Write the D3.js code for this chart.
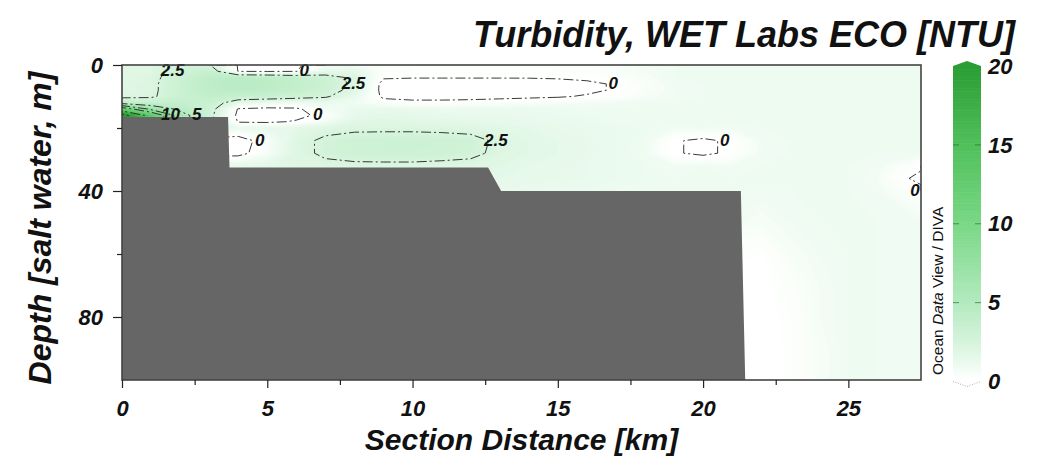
<!DOCTYPE html>
<html>
<head>
<meta charset="utf-8">
<script src="https://cdn.jsdelivr.net/npm/d3@7"></script>
<style>
body { margin: 0; background: #fff; }
svg { display: block; font-family: "Liberation Sans", Arial, sans-serif; }
</style>
</head>
<body>
<div id="chart"></div>
<script>
// section stations (km) and depth levels (m) of the gridded field
var distances = [0, 1, 2, 3, 4, 5, 6, 7, 8, 9, 10, 11, 12, 13, 14, 15, 16, 17, 18, 19, 20, 21, 22, 23, 24, 25, 26, 27.5];
var depths = [0, 2, 4, 6, 8, 10, 12, 14, 16, 18, 20, 24, 28, 32, 36, 40, 50, 60, 70, 80, 90, 100];

// turbidity [NTU], one row per depth level
var turbidity = [
  [1.8, 2.0, 2.8, 2.6, -0.1, -0.3, -0.2, 0.8, 0.9, 0.5, 0.3, 0.3, 0.3, 0.3, 0.3, 0.4, 0.5, 0.7, 0.9, 1.0, 1.0, 1.0, 1.0, 1.0, 1.0, 1.0, 1.0, 1.0],
  [1.8, 2.0, 3.0, 3.6, -0.05, -0.1, -0.05, 1.5, 1.6, 0.4, 0.3, 0.3, 0.3, 0.3, 0.3, 0.3, 0.4, 0.6, 0.8, 1.0, 1.0, 1.0, 1.0, 1.0, 1.0, 1.0, 1.0, 1.0],
  [1.9, 2.1, 3.3, 4.2, 4.5, 4.3, 3.8, 3.2, 2.2, 0.1, 0.05, 0.05, 0.05, 0.05, 0.05, 0.1, 0.2, 0.4, 0.7, 1.0, 1.0, 1.0, 1.0, 1.0, 1.0, 1.0, 1.0, 1.0],
  [2.0, 2.2, 3.4, 4.3, 4.6, 4.4, 3.9, 3.3, 2.2, -0.4, -0.6, -0.6, -0.6, -0.6, -0.5, -0.4, -0.2, 0.1, 0.6, 0.9, 1.0, 1.0, 1.0, 1.0, 1.0, 1.0, 1.0, 1.0],
  [2.0, 2.2, 3.4, 4.2, 4.5, 4.3, 3.8, 3.2, 2.0, -0.4, -0.6, -0.6, -0.6, -0.6, -0.5, -0.4, -0.2, 0.1, 0.6, 0.9, 1.0, 1.0, 1.0, 1.0, 1.0, 1.0, 1.0, 1.0],
  [2.1, 2.3, 3.3, 3.9, 3.6, 3.4, 3.1, 2.7, 1.4, -0.2, -0.4, -0.4, -0.4, -0.3, -0.2, -0.1, 0.1, 0.3, 0.7, 0.9, 1.0, 1.0, 1.0, 1.0, 1.0, 1.0, 1.0, 1.0],
  [4.0, 3.5, 3.8, 3.5, 1.5, 1.2, 1.0, 1.3, 1.0, 0.4, 0.3, 0.3, 0.4, 0.5, 0.6, 0.7, 0.8, 0.9, 1.0, 1.0, 1.0, 1.0, 1.0, 1.0, 1.0, 1.0, 1.0, 1.0],
  [12, 7, 4.5, 3.2, -0.1, -0.3, -0.2, 0.8, 1.3, 1.4, 1.3, 1.2, 1.2, 1.2, 1.2, 1.1, 1.0, 1.0, 1.0, 1.0, 1.0, 1.0, 1.0, 1.0, 1.0, 1.0, 1.0, 1.0],
  [22, 13, 6, 3.0, -0.3, -0.4, -0.3, 0.3, 1.5, 1.7, 1.6, 1.5, 1.4, 1.4, 1.3, 1.2, 1.1, 1.0, 1.0, 1.0, 1.0, 1.0, 1.0, 1.0, 1.0, 1.0, 1.0, 1.0],
  [22, 13, 6, 3.0, -0.1, -0.2, 0.1, 0.9, 1.8, 1.9, 1.8, 1.7, 1.6, 1.5, 1.4, 1.3, 1.2, 1.1, 1.0, 1.0, 1.0, 1.0, 1.0, 1.0, 1.0, 1.0, 1.0, 1.0],
  [3.0, 3.0, 3.0, 2.0, 1.2, 1.4, 1.6, 2.0, 2.2, 2.2, 2.2, 2.1, 2.0, 1.8, 1.6, 1.4, 1.3, 1.2, 1.1, 0.9, 1.0, 0.9, 1.0, 1.0, 1.0, 1.0, 1.0, 1.0],
  [-0.6, -0.6, -0.6, -0.6, -0.6, 0.6, 2.0, 2.8, 3.1, 3.2, 3.2, 3.2, 3.0, 2.2, 1.8, 1.6, 1.4, 1.2, 1.0, 0.1, -0.2, 0.2, 0.9, 1.0, 1.0, 1.0, 1.0, 1.0],
  [-0.5, -0.5, -0.5, -0.5, -0.4, 0.7, 2.0, 2.8, 3.1, 3.2, 3.2, 3.1, 2.9, 2.1, 1.8, 1.6, 1.4, 1.2, 1.0, 0.1, -0.2, 0.2, 0.9, 1.0, 1.0, 1.0, 1.0, 1.0],
  [1.5, 1.5, 1.5, 1.5, 1.5, 1.7, 2.0, 2.1, 2.2, 2.2, 2.2, 2.1, 2.0, 1.8, 1.6, 1.5, 1.3, 1.2, 1.1, 0.9, 1.0, 0.9, 1.0, 1.0, 1.0, 1.0, 0.9, 0.2],
  [1.5, 1.5, 1.5, 1.5, 1.5, 1.6, 1.8, 1.9, 2.0, 2.0, 2.0, 1.9, 1.8, 1.6, 1.5, 1.4, 1.3, 1.2, 1.1, 1.0, 1.0, 1.0, 1.0, 1.0, 1.0, 1.0, 0.8, -0.3],
  [1.3, 1.3, 1.3, 1.3, 1.3, 1.4, 1.5, 1.6, 1.6, 1.6, 1.6, 1.6, 1.5, 1.4, 1.3, 1.2, 1.2, 1.1, 1.0, 1.0, 1.0, 1.0, 1.0, 1.0, 1.0, 1.0, 0.9, 0.3],
  [1.0, 1.0, 1.0, 1.0, 1.0, 1.0, 1.0, 1.0, 1.0, 1.0, 1.0, 1.0, 1.0, 1.0, 1.0, 1.0, 1.0, 1.0, 1.0, 1.0, 1.0, 0.9, 0.7, 0.9, 1.0, 1.0, 1.0, 0.9],
  [1.0, 1.0, 1.0, 1.0, 1.0, 1.0, 1.0, 1.0, 1.0, 1.0, 1.0, 1.0, 1.0, 1.0, 1.0, 1.0, 1.0, 1.0, 1.0, 1.0, 1.0, 0.3, 0.2, 0.7, 0.9, 1.0, 1.0, 0.9],
  [1.0, 1.0, 1.0, 1.0, 1.0, 1.0, 1.0, 1.0, 1.0, 1.0, 1.0, 1.0, 1.0, 1.0, 1.0, 1.0, 1.0, 1.0, 1.0, 1.0, 1.0, 0.1, 0.05, 0.4, 0.8, 1.0, 1.0, 0.9],
  [1.0, 1.0, 1.0, 1.0, 1.0, 1.0, 1.0, 1.0, 1.0, 1.0, 1.0, 1.0, 1.0, 1.0, 1.0, 1.0, 1.0, 1.0, 1.0, 1.0, 1.0, 0.05, 0.05, 0.3, 0.8, 1.0, 1.0, 0.9],
  [1.0, 1.0, 1.0, 1.0, 1.0, 1.0, 1.0, 1.0, 1.0, 1.0, 1.0, 1.0, 1.0, 1.0, 1.0, 1.0, 1.0, 1.0, 1.0, 1.0, 1.0, 0.05, 0.05, 0.25, 0.7, 1.0, 1.0, 0.9],
  [1.0, 1.0, 1.0, 1.0, 1.0, 1.0, 1.0, 1.0, 1.0, 1.0, 1.0, 1.0, 1.0, 1.0, 1.0, 1.0, 1.0, 1.0, 1.0, 1.0, 1.0, 0.05, 0.05, 0.25, 0.7, 1.0, 1.0, 0.9]
];

// sea floor outline
var bottomKm = [0, 3.65, 3.7, 12.6, 13.05, 21.3, 21.45];
var bottomDepth = [16.5, 16.5, 32.5, 32.5, 40, 40, 100];

var xTicks = [0, 5, 10, 15, 20, 25];
var xMinorTicks = [2.5, 7.5, 12.5, 17.5, 22.5];
var yTicks = [0, 40, 80];
var yMinorTicks = [20, 60];
var colorTicks = [0, 5, 10, 15, 20];
var contourLevels = [0, 2.5, 5, 7.5, 10, 15, 20];

var colorStops = [0, 0.4, 1, 2.5, 5, 10, 15, 20];
var colorRange = ["#ffffff", "#fbfefb", "#eefbf1", "#d6f4dc", "#b3eabf", "#7ad886", "#50c05b", "#2a9d33"];

var svgWidth = 1045, svgHeight = 461;
var plotLeft = 122, plotRight = 921, plotTop = 65, plotBottom = 380;
var labelFont = "bold italic 22px 'Liberation Sans', Arial, sans-serif";

var svg = d3.select("#chart").append("svg")
    .attr("width", svgWidth)
    .attr("height", svgHeight);

var x = d3.scaleLinear().domain([0, 27.5]).range([plotLeft, plotRight]);
var y = d3.scaleLinear().domain([0, 100]).range([plotTop, plotBottom]);
var color = d3.scaleLinear().domain(colorStops).range(colorRange).clamp(true);

svg.append("clipPath").attr("id", "plotClip")
  .append("rect")
    .attr("x", plotLeft).attr("y", plotTop)
    .attr("width", plotRight - plotLeft).attr("height", plotBottom - plotTop);

// grid index -> data coords (value i sits at i + 0.5 in d3.contours space)
var nx = distances.length, ny = depths.length;
var gx = d3.scaleLinear().domain(distances.map(function(d, i) { return i + 0.5; })).range(distances).clamp(true);
var gy = d3.scaleLinear().domain(depths.map(function(d, i) { return i + 0.5; })).range(depths).clamp(true);
var toPx = function(p) { return [x(gx(p[0])), y(gy(p[1]))]; };
var proj = d3.geoTransform({
    point: function(px, py) { this.stream.point(x(gx(px)), y(gy(py))); }
});
var path = d3.geoPath(proj);

var flat = [];
turbidity.forEach(function(row) { row.forEach(function(v) { flat.push(v); }); });

var field = svg.append("g").attr("clip-path", "url(#plotClip)");

field.append("rect")
    .attr("x", plotLeft).attr("y", plotTop)
    .attr("width", plotRight - plotLeft).attr("height", plotBottom - plotTop)
    .attr("fill", "#ffffff");

var bands = d3.contours().size([nx, ny]).thresholds(d3.range(0, 22, 0.1))(flat);
field.selectAll("path.band")
    .data(bands)
    .enter().append("path")
    .attr("class", "band")
    .attr("d", path)
    .attr("fill", function(d) { return color(d.value); });

// sea floor polygon in pixels
var floorPts = bottomKm.map(function(k, i) { return [x(k), y(bottomDepth[i])]; });
floorPts.push([x(0), y(100)]);

// contour lines, split where they run along the grid border
function isEdge(p) { return p[0] <= 0 || p[0] >= nx || p[1] <= 0 || p[1] >= ny; }
function splitRing(ring) {
    var pts = ring.slice(0, -1);
    var k = pts.findIndex(isEdge);
    if (k < 0) return [ring];
    var rot = pts.slice(k).concat(pts.slice(0, k));
    var runs = [], cur = [rot[0]], inner = 0;
    for (var i = 1; i < rot.length; i++) {
        var p = rot[i];
        cur.push(p);
        if (isEdge(p)) {
            if (inner > 0) runs.push(cur);
            cur = [p]; inner = 0;
        } else inner++;
    }
    cur.push(rot[0]);
    if (inner > 0) runs.push(cur);
    return runs;
}

var lines = d3.contours().size([nx, ny]).thresholds(contourLevels)(flat);
var runs = [];
lines.forEach(function(c) {
    c.coordinates.forEach(function(poly) {
        poly.forEach(function(ring) {
            splitRing(ring).forEach(function(r) {
                runs.push({ value: c.value, pts: r.map(toPx) });
            });
        });
    });
});

field.selectAll("path.iso")
    .data(runs)
    .enter().append("path")
    .attr("class", "iso")
    .attr("d", function(d) { return d3.line()(d.pts); })
    .attr("fill", "none")
    .attr("stroke", "#222")
    .attr("stroke-width", 0.9)
    .attr("stroke-dasharray", "10,3,2,3");

// sea floor
svg.append("path")
    .attr("d", d3.line()(floorPts) + "Z")
    .attr("fill", "#666666");

// contour labels at the right end of each visible run
var labels = [];
runs.forEach(function(r) {
    var vis = r.pts.filter(function(p) {
        return p[0] > plotLeft + 2 && p[1] > plotTop + 2 && p[1] < plotBottom - 2 && !d3.polygonContains(floorPts, p);
    });
    if (vis.length < 2) return;
    var len = 0;
    for (var i = 1; i < vis.length; i++) len += Math.hypot(vis[i][0] - vis[i - 1][0], vis[i][1] - vis[i - 1][1]);
    if (len < 30) return;
    var best = d3.greatest(vis, function(p) { return p[0]; });
    var dx = 7;
    if (best[0] > plotRight - 10) {
        best = d3.greatest(vis, function(p) { return p[1]; });
        dx = -6;
    }
    labels.push({ value: r.value, p: best, dx: dx });
});

svg.selectAll("text.clabel")
    .data(labels)
    .enter().append("text")
    .attr("class", "clabel")
    .attr("x", function(d) { return d.p[0] + d.dx; })
    .attr("y", function(d) { return Math.min(Math.max(d.p[1] + 5, plotTop + 10), plotBottom - 4); })
    .attr("text-anchor", "middle")
    .style("font", "bold italic 17px 'Liberation Sans', Arial, sans-serif")
    .attr("fill", "#111")
    .text(function(d) { return d.value; });

// frame
svg.append("rect")
    .attr("x", plotLeft).attr("y", plotTop)
    .attr("width", plotRight - plotLeft).attr("height", plotBottom - plotTop)
    .attr("fill", "none")
    .attr("stroke", "#444")
    .attr("stroke-width", 1.6);

// axes
var xAxisMinor = d3.axisBottom(x).tickValues(xMinorTicks).tickSize(5).tickFormat("");
var xAxis = d3.axisBottom(x).tickValues(xTicks).tickSize(8).tickPadding(12);
var yAxisMinor = d3.axisLeft(y).tickValues(yMinorTicks).tickSize(5).tickFormat("");
var yAxis = d3.axisLeft(y).tickValues(yTicks).tickSize(9).tickPadding(10);

[[xAxisMinor, "translate(0," + plotBottom + ")"], [xAxis, "translate(0," + plotBottom + ")"],
 [yAxisMinor, "translate(" + plotLeft + ",0)"], [yAxis, "translate(" + plotLeft + ",0)"]].forEach(function(a) {
    var g = svg.append("g").attr("transform", a[1]).call(a[0]);
    g.select(".domain").remove();
    g.selectAll("line").attr("stroke", "#222").attr("stroke-width", 1.2);
    g.selectAll("text").style("font", labelFont).attr("fill", "#111");
});

// titles
svg.append("text")
    .attr("x", 1015).attr("y", 47)
    .attr("text-anchor", "end")
    .style("font", "bold italic 36px 'Liberation Sans', Arial, sans-serif")
    .attr("fill", "#111")
    .text("Turbidity, WET Labs ECO [NTU]");

svg.append("text")
    .attr("x", (plotLeft + plotRight) / 2).attr("y", 450)
    .attr("text-anchor", "middle")
    .style("font", "bold italic 30px 'Liberation Sans', Arial, sans-serif")
    .attr("fill", "#111")
    .text("Section Distance [km]");

svg.append("text")
    .attr("transform", "translate(51," + 228 + ") rotate(-90)")
    .attr("text-anchor", "middle")
    .style("font", "bold italic 32px 'Liberation Sans', Arial, sans-serif")
    .attr("fill", "#111")
    .text("Depth [salt water, m]");

// colour bar
var cbLeft = 953, cbRight = 981;
var cy = d3.scaleLinear().domain([0, 20]).range([381.5, 66]);
var cb = svg.append("g");
cb.selectAll("rect")
    .data(d3.range(0, 20, 0.1))
    .enter().append("rect")
    .attr("x", cbLeft)
    .attr("y", function(d) { return cy(d + 0.1); })
    .attr("width", cbRight - cbLeft)
    .attr("height", function(d) { return cy(d) - cy(d + 0.1) + 0.6; })
    .attr("fill", function(d) { return color(d + 0.05); });
cb.append("path")
    .attr("d", d3.line()([[cbLeft, cy(20)], [(cbLeft + cbRight) / 2, cy(20) - 5], [cbRight, cy(20)]]) + "Z")
    .attr("fill", color(20));
cb.append("path")
    .attr("d", d3.line()([[cbLeft, cy(0)], [(cbLeft + cbRight) / 2, cy(0) + 5], [cbRight, cy(0)]]))
    .attr("fill", "#fff")
    .attr("stroke", "#999")
    .attr("stroke-width", 0.8)
    .attr("stroke-dasharray", "1,1.5");
cb.selectAll("g.cbt")
    .data(colorTicks.filter(function(v) { return v > 0 && v < 20; }))
    .enter().append("g")
    .attr("class", "cbt")
    .each(function(v) {
        var g = d3.select(this);
        g.append("line").attr("x1", cbLeft).attr("x2", cbLeft + 6).attr("y1", cy(v)).attr("y2", cy(v))
            .attr("stroke", "#2f6f36").attr("stroke-opacity", 0.7);
        g.append("line").attr("x1", cbRight - 6).attr("x2", cbRight).attr("y1", cy(v)).attr("y2", cy(v))
            .attr("stroke", "#2f6f36").attr("stroke-opacity", 0.7);
    });
cb.selectAll("text.cbl")
    .data(colorTicks)
    .enter().append("text")
    .attr("class", "cbl")
    .attr("x", 988)
    .attr("y", function(d) { return cy(d); })
    .attr("dy", "0.35em")
    .style("font", labelFont)
    .attr("fill", "#111")
    .text(function(d) { return d; });

var odv = svg.append("text")
    .attr("transform", "translate(943,375) rotate(-90)")
    .style("font", "15.5px 'Liberation Sans', Arial, sans-serif")
    .attr("fill", "#111");
odv.append("tspan").text("Ocean ");
odv.append("tspan").style("font-style", "italic").text("Data");
odv.append("tspan").text(" View / DIVA");
</script>
</body>
</html>
